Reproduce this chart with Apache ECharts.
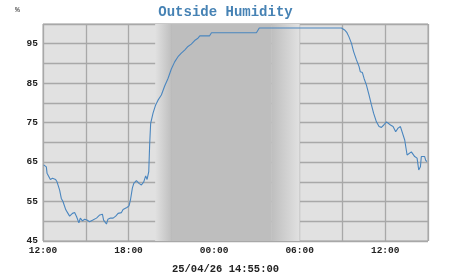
<!DOCTYPE html>
<html><head><meta charset="utf-8">
<script src="https://cdn.jsdelivr.net/npm/echarts@6/dist/echarts.min.js"></script>
<style>html,body{margin:0;padding:0;background:#fff}#c{width:451px;height:275px}</style>
</head><body><div id="c"></div>
<script>
// clock times (24/04 12:00 -> 25/04 14:55); day rolls over when hour decreases
const times = ["12:03","12:07","12:14","12:17","12:25","12:31","12:40","12:45","12:53","12:59","13:10","13:17","13:24","13:36","13:45","13:52","14:04","14:13","14:21","14:31","14:37","14:46","14:55","15:05","15:16","15:30","15:45","15:59","16:10","16:15","16:27","16:33","16:44","16:55","17:06","17:16","17:23","17:30","17:37","17:44","17:53","18:02","18:08","18:16","18:22","18:26","18:33","18:44","18:54","19:04","19:12","19:18","19:25","19:29","19:33","19:43","19:54","20:04","20:18","20:32","20:46","21:00","21:14","21:28","21:42","21:56","22:10","22:24","22:38","22:46","22:52","22:56","23:00","23:41","23:49","02:58","03:10","08:56","09:09","09:19","09:27","09:38","09:47","09:59","10:10","10:15","10:24","10:31","10:41","10:52","11:02","11:11","11:23","11:34","11:44","11:54","12:05","12:12","12:22","12:33","12:44","12:54","13:04","13:12","13:22","13:32","13:40","13:50","13:57","14:04","14:14","14:21","14:28","14:32","14:37","14:46","14:50","14:55"];
const humidity = [64.3,64.3,63.8,62.2,61.7,60.6,60.9,60.5,60.6,60.0,57.9,55.8,55.0,52.9,52.0,51.3,52.0,52.2,51.2,49.6,50.8,50.1,50.5,50.3,49.9,50.3,50.8,51.6,51.8,50.3,49.3,50.5,50.8,50.8,51.3,52.0,52.4,52.2,53.0,53.5,53.5,53.9,55.4,58.4,59.6,59.8,60.3,59.6,59.2,60.0,61.5,60.6,62.6,69.8,74.8,77.4,79.5,80.7,82.0,84.3,86.2,88.6,90.4,91.7,92.6,93.4,94.3,94.9,95.8,96.0,96.4,96.8,97.0,97.0,97.8,97.8,99.0,99.0,98.5,97.8,96.8,95.1,93.0,90.9,89.2,87.9,87.7,86.2,84.5,82.0,79.5,77.4,75.2,74.0,73.8,74.4,75.2,74.8,74.4,74.0,72.7,73.6,74.0,73.6,70.6,66.8,67.2,67.6,67.2,66.4,66.0,63.0,63.8,66.4,66.8,66.4,65.5,65.1];
const xTickLabels = ["12:00","15:00","18:00","21:00","00:00","03:00","06:00","09:00","12:00","15:00"];
const yTicks = [45,50,55,60,65,70,75,80,85,90,95,100];
// night shading (dusk fade start, full dark, dawn fade start, light)
const nightTimes = ["19:52","21:02","04:00","06:00"];
const titleText = "Outside Humidity";
const unitText = "%";
const dateText = "25/04/26 14:55:00";

function toHours(list){
  let day = 0, prev = -1;
  return list.map(t => {
    const [h,m] = t.split(":").map(Number);
    let v = h + m/60;
    if (prev >= 0 && v < prev - 1) day++;
    prev = v;
    return (v - 12) + day*24;
  });
}
const xs = toHours(times);
const data = xs.map((x,i)=>[x, humidity[i]]);
const nh = toHours(nightTimes);
const LIGHT = "#e1e1e1", DARK = "#bebebe";

const chart = echarts.init(document.getElementById('c'), null, {renderer:'canvas'});
chart.setOption({
  animation:false,
  backgroundColor:'#ffffff',
  title:[
    {text:titleText, left:'center', top:0, textStyle:{fontFamily:'Liberation Mono', fontSize:14, fontWeight:'bold', color:'#4682b4'}},
    {text:unitText, left:10, top:1, textStyle:{fontFamily:'Liberation Mono', fontSize:8, fontWeight:'normal', color:'#333'}},
    {text:dateText, left:'center', top:259, textStyle:{fontFamily:'Liberation Mono', fontSize:10.5, fontWeight:'bold', color:'#222'}}
  ],
  grid:{left:43, right:23, top:24, bottom:34, show:true, backgroundColor:LIGHT, borderColor:'#a8a8a8', borderWidth:1, z:0},
  xAxis:{type:'value', min:0, max:27, interval:3, z:1,
    axisLine:{show:false}, axisTick:{show:false},
    splitLine:{show:true, lineStyle:{color:'#a8a8a8', width:1.3}},
    axisLabel:{margin:5, fontFamily:'Liberation Mono', fontSize:9.5, fontWeight:'bold', color:'#222',
      formatter:(v)=>{const i=Math.round(v/3); return (i%2===0)? xTickLabels[i] : '';}}
  },
  yAxis:{type:'value', min:yTicks[0], max:yTicks[yTicks.length-1], interval:5, z:1,
    axisLine:{show:false}, axisTick:{show:false},
    splitLine:{show:true, lineStyle:{color:'#a8a8a8', width:1.3}},
    axisLabel:{margin:5, fontFamily:'Liberation Mono', fontSize:9.5, fontWeight:'bold', color:'#222',
      formatter:(v)=> ((v-45)%10===0 && v<100) ? String(v) : ''}
  },
  series:[
    {type:'line', data:[], z:0.5, silent:true,
      markArea:{silent:true, data:[
        [{xAxis:nh[0], itemStyle:{color:new echarts.graphic.LinearGradient(0,0,1,0,[{offset:0,color:LIGHT},{offset:1,color:DARK}])}},{xAxis:nh[1]}],
        [{xAxis:nh[1], itemStyle:{color:DARK}},{xAxis:nh[2]}],
        [{xAxis:nh[2], itemStyle:{color:new echarts.graphic.LinearGradient(0,0,1,0,[{offset:0,color:DARK},{offset:1,color:LIGHT}])}},{xAxis:nh[3]}]
      ]}
    },
    {type:'line', data:data, z:3, showSymbol:false, smooth:false,
      lineStyle:{color:'#4a86bf', width:1.1}}
  ]
});
</script></body></html>
